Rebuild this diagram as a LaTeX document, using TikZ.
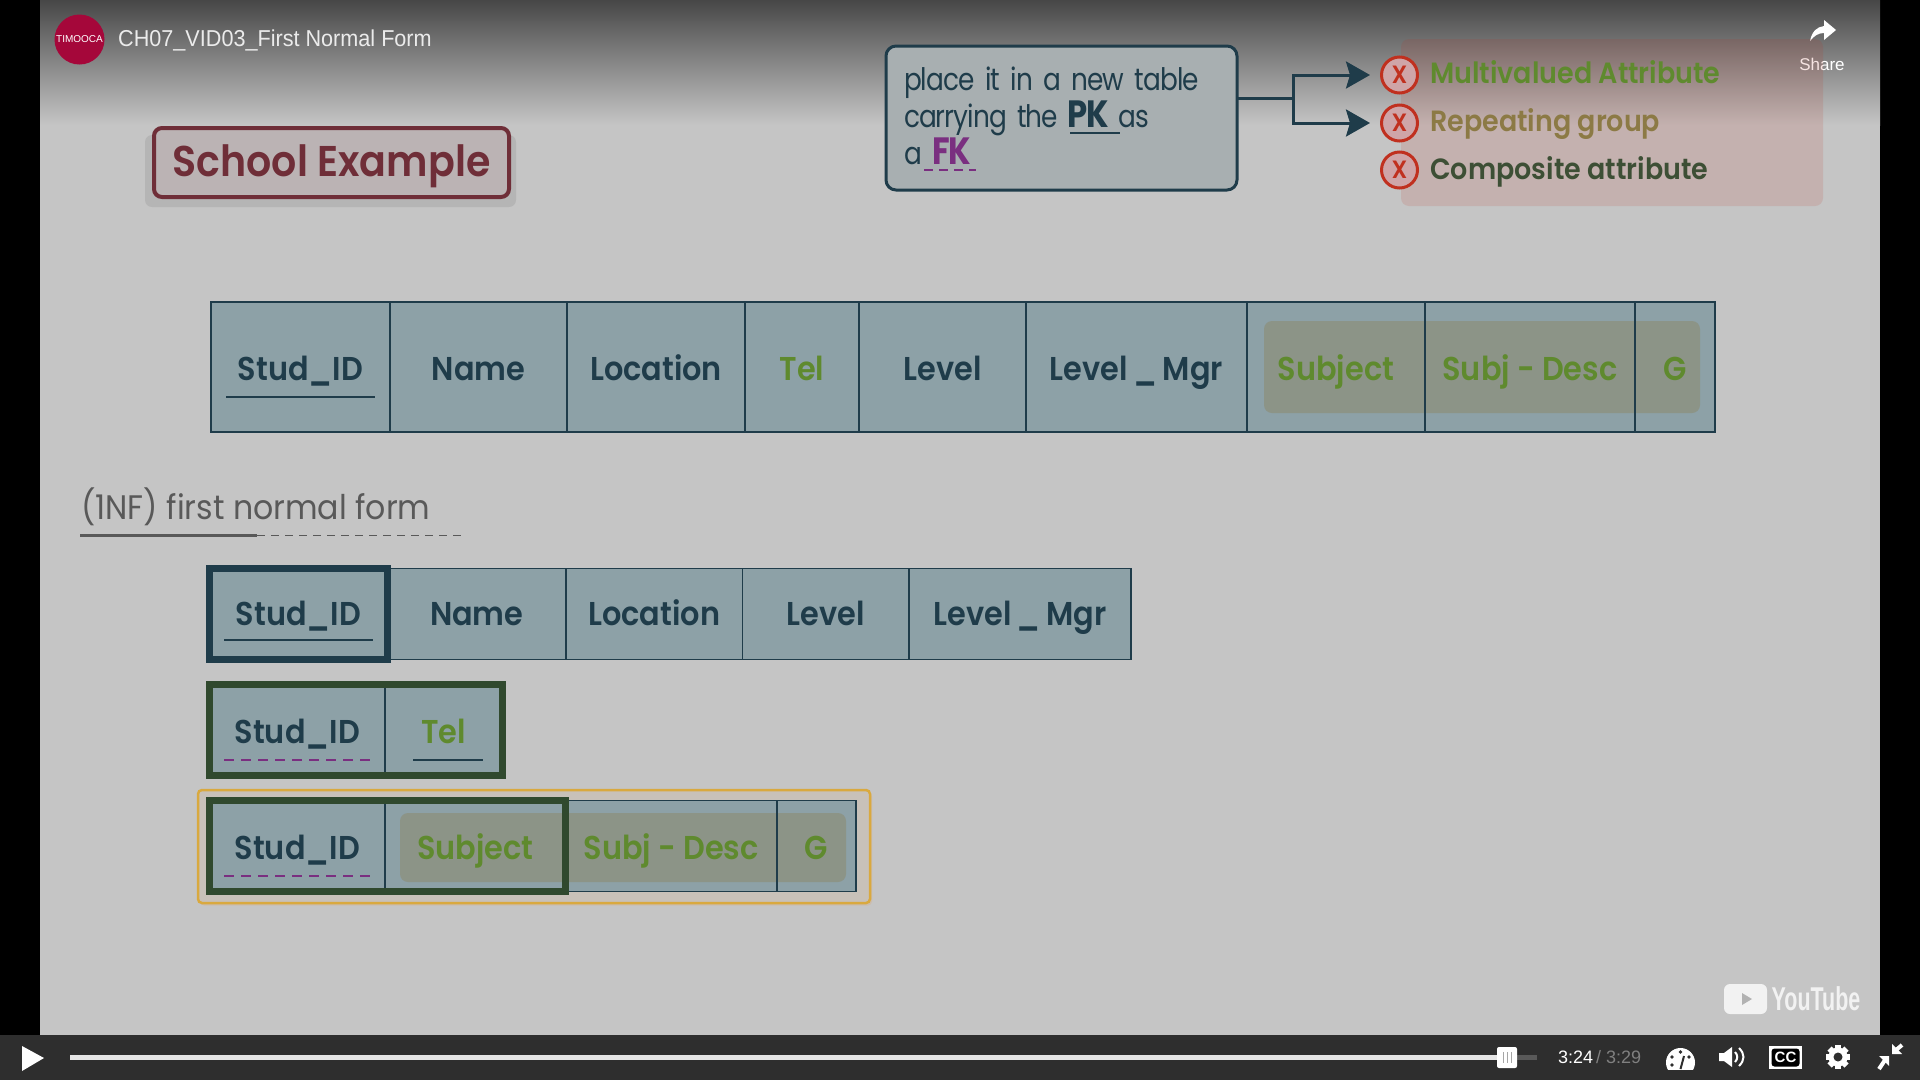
\documentclass[tikz,border=0pt]{standalone}
\usepackage{fontspec}
\setmainfont{Poppins}
\newfontfamily\cellfont[FakeStretch=0.92]{Poppins SemiBold}
\newfontfamily\notefont[FakeStretch=0.85,LetterSpace=-3]{Poppins}
\newfontfamily\headfont[FakeStretch=0.93]{Poppins}
\newfontfamily\uifont{Liberation Sans}
\usetikzlibrary{arrows.meta,positioning,fit}
\definecolor{paper}{HTML}{C5C5C5}
\definecolor{barcol}{HTML}{2E2E2E}
\definecolor{cellcol}{HTML}{8DA1A7}
\definecolor{inkcol}{HTML}{1F3C4A}
\definecolor{greencol}{HTML}{30492E}
\definecolor{attrcol}{HTML}{5F8A2E}
\definecolor{repcol}{HTML}{8C7A45}
\definecolor{compcol}{HTML}{3D4F35}
\definecolor{hlcol}{HTML}{8C8258}
\definecolor{fkcol}{HTML}{7A2F80}
\definecolor{wine}{HTML}{6F2E38}
\definecolor{crossred}{HTML}{C0301F}
\definecolor{crossfill}{HTML}{CFA5A8}
\definecolor{yellowline}{HTML}{D9A93F}
\definecolor{logocol}{HTML}{A5073A}
\tikzset{
  x=1pt, y=-1pt,
  cell_u/.style = {draw=inkcol, line width=1.6pt, inner sep=0pt, outer sep=0pt, align=center,
                   text=inkcol, font=\cellfont\fontsize{33}{36}\selectfont, text height=28pt, text depth=2pt},
  cell_g/.style = {cell_u, text=attrcol},
  hl_box/.style = {fill=hlcol, opacity=0.4, rounded corners=8pt},
  pk_box/.style = {draw=inkcol, line width=7pt, inner sep=0pt},
  fk_box/.style = {draw=greencol, line width=7pt, inner sep=0pt},
  pk_line/.style = {draw=inkcol, line width=1.8pt},
  fk_line/.style = {draw=fkcol, line width=1.6pt, dash pattern=on 10pt off 7pt},
  conn/.style = {draw=inkcol, line width=3pt},
  cross_u/.style = {circle, draw=crossred, line width=3pt, fill=crossfill, minimum size=36pt,
                    inner sep=0pt, text=crossred, font=\cellfont\fontsize{25}{28}\selectfont},
  attr_u/.style = {anchor=west, inner sep=0pt, text height=24pt, text depth=2pt,
                   font=\cellfont\fontsize{29.3}{33}\selectfont},
  ui_txt/.style = {inner sep=0pt, font=\uifont\fontsize{18}{20}\selectfont},
}
\begin{document}
\begin{tikzpicture}
  \useasboundingbox (0,0) rectangle (1920,1080);
  % frame
  \fill[black] (0,0) rectangle (1920,1080);
  \fill[paper] (40,0) rectangle (1880,1035);
  \shade[top color=black!72, middle color=black!30, bottom color=paper] (40,0) rectangle (1880,125);
  \fill[barcol] (0,1035) rectangle (1920,1080);

  % header
  \node [circle, fill=logocol, minimum size=50pt, inner sep=0pt, text=white,
         font=\uifont\fontsize{10}{12}\selectfont] (logo) at (79.5,39.5) {TIMOOCA};
  \node [ui_txt, anchor=west, text=white!92!black, xscale=0.94, font=\uifont\fontsize{23}{26}\selectfont] (video_title) at (118,40) {CH07\_VID03\_First Normal Form};
  \fill[white] (1810,41) .. controls (1812,31) and (1817,27) .. (1824,26) -- (1824,20) -- (1836,30)
    -- (1824,40) -- (1824,33) .. controls (1818,33) and (1814,36) .. (1810,41);
  \node [ui_txt, text=white, font=\uifont\fontsize{17}{20}\selectfont] (share) at (1822,64) {Share};

  % title
  \node [fill=black, opacity=0.08, rounded corners=7pt, minimum width=371pt, minimum height=72pt, inner sep=0pt] (school_shadow) at (330.5,171) {};
  \node [draw=wine, line width=4pt, fill=wine!12!paper, rounded corners=8pt, minimum width=355pt, minimum height=69pt,
         inner sep=0pt, text=wine, text height=30pt, text depth=2pt, font=\cellfont\fontsize{43}{46}\selectfont] (school) at (331.5,162.5) {School Example};

  % note and list
  \node [draw=inkcol, line width=3pt, fill=black!12!cellcol!40!paper, rounded corners=10pt, minimum width=351pt, minimum height=144pt,
         inner sep=0pt, outer sep=0pt, text width=315pt, align=left, text=inkcol, font=\notefont\fontsize{31}{37}\selectfont] (callout) at (1061.5,118)
         {\raisebox{5pt}{place it in a new table}\\\raisebox{5pt}{carrying the \textbf{\fontsize{38}{37}\selectfont PK} as}\\\raisebox{5pt}{a \textcolor{fkcol}{\textbf{\fontsize{38}{37}\selectfont FK}}}};
  \draw[pk_line] (1070,133) -- (1120,133);
  \draw[fk_line, line width=2pt, dash pattern=on 9pt off 6pt] (924,170) -- (976,170);

  \node [fill=crossred, opacity=0.13, rounded corners=8pt, minimum width=422pt, minimum height=167pt, inner sep=0pt] (list_box) at (1612,122.5) {};
  \node [cross_u] (x_multi) at (1399.5,75) {X};
  \node [cross_u] (x_repeat) at (1399.5,123) {X};
  \node [cross_u] (x_comp) at (1399.5,170) {X};
  \node [attr_u, text=attrcol] (multi) at (1430,72) {Multivalued Attribute};
  \node [attr_u, text=repcol] (repeat) at (1430,120) {Repeating group};
  \node [attr_u, text=compcol] (comp) at (1430,168) {Composite attribute};

  \coordinate (branch) at (1293,98);
  \draw[conn] (callout.east |- branch) -- (branch);
  \draw[conn, -{Stealth[length=24pt,width=27pt,inset=4pt]}] (branch) |- ([xshift=-10pt]x_multi.west);
  \draw[conn, -{Stealth[length=24pt,width=27pt,inset=4pt]}] (branch) |- ([xshift=-10pt]x_repeat.west);

  % big table
  \fill[cellcol] (211,302) rectangle (1715,432);
  \node [hl_box, minimum width=436pt, minimum height=92pt] (big_hl) at (1482,367) {};
  \node [cell_u, minimum width=179pt, minimum height=130pt, anchor=west] (big_id) at (211,367) {Stud\_ID};
  \node [cell_u, minimum width=177pt, minimum height=130pt, right=0pt of big_id] (big_name) {Name};
  \node [cell_u, minimum width=178pt, minimum height=130pt, right=0pt of big_name] (big_loc) {Location};
  \node [cell_g, minimum width=114pt, minimum height=130pt, right=0pt of big_loc] (big_tel) {Tel};
  \node [cell_u, minimum width=167pt, minimum height=130pt, right=0pt of big_tel] (big_level) {Level};
  \node [cell_u, minimum width=221pt, minimum height=130pt, right=0pt of big_level] (big_mgr) {Level\,\_\,Mgr};
  \node [cell_g, minimum width=178pt, minimum height=130pt, right=0pt of big_mgr] (big_subj) {Subject};
  \node [cell_g, minimum width=210pt, minimum height=130pt, right=0pt of big_subj] (big_desc) {Subj - Desc};
  \node [cell_g, minimum width=80pt, minimum height=130pt, right=0pt of big_desc] (big_g) {G};
  \draw[pk_line] (226,397) -- (375,397);

  % heading
  \node [anchor=west, inner sep=0pt, text=black!65, font=\headfont\fontsize{34}{38}\selectfont] (nf_head) at (81,507) {(1NF) first normal form};
  \draw[black!65, line width=3pt] (80,535.5) -- (257,535.5);
  \draw[black!65, line width=1.2pt, dash pattern=on 8pt off 6pt] (257,535.5) -- (461,535.5);

  % table with the key
  \fill[cellcol] (209.5,568.5) rectangle (1131,659.5);
  \node [cell_u, minimum width=178pt, minimum height=91pt, anchor=west, text height=24pt] (main_id) at (209.5,614) {Stud\_ID};
  \node [cell_u, minimum width=178.5pt, minimum height=91pt, right=0pt of main_id, text height=24pt] (main_name) {Name};
  \node [cell_u, minimum width=176.5pt, minimum height=91pt, right=0pt of main_name, text height=24pt] (main_loc) {Location};
  \node [cell_u, minimum width=166.5pt, minimum height=91pt, right=0pt of main_loc, text height=24pt] (main_level) {Level};
  \node [cell_u, minimum width=222pt, minimum height=91pt, right=0pt of main_level, text height=24pt] (main_mgr) {Level\,\_\,Mgr};
  \node [pk_box, fit=(main_id)] (main_pk) {};
  \draw[pk_line] (224,640) -- (373,640);

  % table for tel
  \fill[cellcol] (209.5,684.5) rectangle (502.5,775.5);
  \node [cell_u, minimum width=175.5pt, minimum height=91pt, anchor=west] (tel_id) at (209.5,730) {Stud\_ID};
  \node [cell_g, minimum width=117.5pt, minimum height=91pt, right=0pt of tel_id] (tel_tel) {Tel};
  \node [fk_box, fit=(tel_id)(tel_tel)] (tel_pk) {};
  \draw[fk_line] (224,760) -- (373,760);
  \draw[pk_line] (413,760) -- (483,760);

  % table for subject
  \node [fill=orange, opacity=0.12, rounded corners=4pt, minimum width=672pt, minimum height=113pt, inner sep=0pt] (subj_shadow) at (536,849) {};
  \node [draw=yellowline, line width=2.5pt, rounded corners=4pt, fill=orange!6!paper, minimum width=672pt, minimum height=113pt, inner sep=0pt] (subj_frame) at (534,846.5) {};
  \fill[cellcol] (209.5,800.5) rectangle (856,891.5);
  \node [hl_box, minimum width=446pt, minimum height=69pt] (subj_hl) at (623,847.5) {};
  \node [cell_u, minimum width=175.5pt, minimum height=91pt, anchor=west] (subj_id) at (209.5,846) {Stud\_ID};
  \node [cell_g, minimum width=180.5pt, minimum height=91pt, right=0pt of subj_id] (subj_subj) {Subject};
  \node [cell_g, minimum width=211.5pt, minimum height=91pt, right=0pt of subj_subj] (subj_desc) {Subj - Desc};
  \node [cell_g, minimum width=79pt, minimum height=91pt, right=0pt of subj_desc] (subj_g) {G};
  \node [fk_box, fit=(subj_id)(subj_subj)] (subj_pk) {};
  \draw[fk_line] (224,876) -- (373,876);

  % watermark
  \node [fill=white!95!black, rounded corners=6pt, minimum width=43pt, minimum height=30pt, inner sep=0pt] (yt_icon) at (1745.5,999) {};
  \fill[black!30] (1742,993) -- (1752,999) -- (1742,1005) -- cycle;
  \node [inner sep=0pt, text=white!95!black, xscale=0.65, font=\uifont\bfseries\fontsize{33}{36}\selectfont] (yt_word) at (1816,999) {YouTube};

  % player bar
  \fill[white] (22,1046) -- (44,1058) -- (22,1071) -- cycle;
  \fill[black!65] (1517,1055) rectangle (1537,1060);
  \fill[black!10] (70,1055) rectangle (1497,1060);
  \node [fill=white, rounded corners=2pt, minimum width=20pt, minimum height=21pt, inner sep=0pt] (slider) at (1507,1057.5) {};
  \foreach \i in {1503,1507,1511}
    \draw[black!35, line width=1pt] (\i,1052) -- (\i,1063);
  \node [ui_txt, anchor=west, text=white] (time_now) at (1558,1057) {3:24};
  \node [ui_txt, anchor=west, text=black!50] (time_all) at (1596,1057) {/ 3:29};
  % gauge
  \begin{scope}
    \clip (1664,1046) rectangle (1697,1069);
    \fill[white] (1680.5,1062.5) circle (14.5);
    \fill[barcol] (1680.5,1052) circle (1.8) (1672,1057) circle (1.8) (1689,1057) circle (1.8) (1672,1065) circle (1.8);
    \draw[barcol, line width=2pt] (1680.5,1069) -- (1684,1056);
  \end{scope}
  % volume
  \fill[white] (1719,1053) -- (1724,1053) -- (1732,1047) -- (1732,1067) -- (1724,1061) -- (1719,1061) -- cycle;
  \draw[white, line width=2pt] (1735,1052) .. controls (1738,1055) and (1738,1059) .. (1735,1062);
  \draw[white, line width=2pt] (1739,1048) .. controls (1745,1054) and (1745,1060) .. (1739,1066);
  % captions
  \fill[white] (1769,1046) rectangle (1802,1069);
  \node [fill=black, rounded corners=3pt, minimum width=28pt, minimum height=18pt, inner sep=0pt, text=white,
         font=\uifont\bfseries\fontsize{15}{17}\selectfont] (cc_box) at (1785.5,1057.5) {CC};
  % settings
  \foreach \a in {0,45,...,135}
    \fill[white, rotate around={\a:(1838,1057)}] (1835,1045) rectangle (1841,1069);
  \fill[white] (1838,1057) circle (9.5);
  \fill[barcol] (1838,1057) circle (4.5);
  % exit full screen
  \fill[white] (1889,1056) -- (1879,1056) -- (1889,1066) -- cycle;
  \draw[white, line width=4pt] (1885,1060) -- (1879,1069);
  \fill[white] (1892,1054) -- (1902,1054) -- (1892,1044) -- cycle;
  \draw[white, line width=4pt] (1896,1050) -- (1902,1045);
\end{tikzpicture}
\end{document}
